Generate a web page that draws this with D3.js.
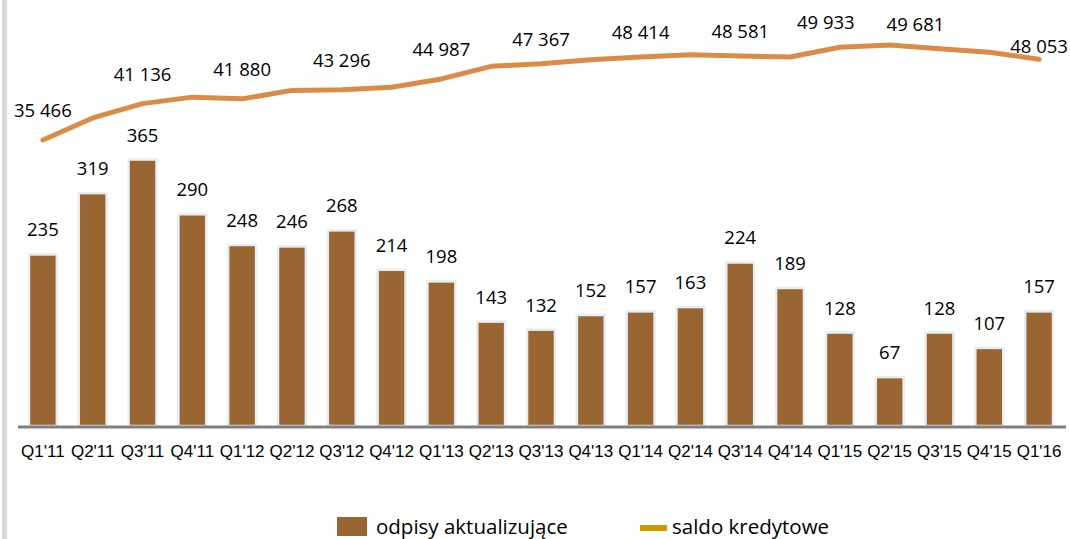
<!DOCTYPE html>
<html>
<head>
<meta charset="utf-8">
<script src="https://cdn.jsdelivr.net/npm/d3@7"></script>
<style>
  body { margin: 0; background: #fff; }
  svg { display: block; font-family: "Open Sans", sans-serif; }
  .tick text { font-size: 17px; fill: #000; }
</style>
</head>
<body>
<script>
var quarters = ["Q1'11","Q2'11","Q3'11","Q4'11","Q1'12","Q2'12","Q3'12","Q4'12",
  "Q1'13","Q2'13","Q3'13","Q4'13","Q1'14","Q2'14","Q3'14","Q4'14",
  "Q1'15","Q2'15","Q3'15","Q4'15","Q1'16"];

// odpisy aktualizujące
var writeDowns = [235, 319, 365, 290, 248, 246, 268, 214, 198, 143, 132, 152,
  157, 163, 224, 189, 128, 67, 128, 107, 157];

// saldo kredytowe (only every second quarter is labelled in the source)
var creditBalance = [35466, 38900, 41136, 42150, 41880, 43200, 43296, 43700,
  44987, 46950, 47367, 48000, 48414, 48780, 48581, 48400, 49933, 50300,
  49681, 49150, 48053];

var labelledQuarters = ["Q1'11","Q3'11","Q1'12","Q3'12","Q1'13","Q3'13",
  "Q1'14","Q3'14","Q1'15","Q3'15","Q1'16"];

var legendNames = ["odpisy aktualizujące", "saldo kredytowe"];

var width = 1070,
    height = 539,
    baseY = 426;

// hand placed line labels, like in the original slide
var labelShift = {
  "Q1'15": [-14, 0],
  "Q3'15": [-24, 0],
  "Q1'16": [0, 12]
};

var fmt = function(v) {
  return d3.format(",")(v).replace(/,/g, " ");
};

var svg = d3.select("body").append("svg")
    .attr("width", width)
    .attr("height", height);

// slide border on the left
svg.append("rect")
    .attr("x", 2).attr("y", 0)
    .attr("width", 5).attr("height", height)
    .attr("fill", "#d9d9d9");

var x = d3.scaleBand()
    .domain(quarters)
    .range([18, 1064])
    .paddingInner(0.44)
    .paddingOuter(0.22);

var yBar = d3.scaleLinear()
    .domain([0, 400])
    .range([baseY, 134]);

var yLine = d3.scaleLinear()
    .domain([30000, 52000])
    .range([175, 34]);

var cx = function(q) { return x(q) + x.bandwidth() / 2; };

var bars = svg.append("g").attr("class", "bars")
  .selectAll("g")
    .data(quarters)
  .enter().append("g");

bars.append("rect")
    .attr("x", function(d) { return x(d); })
    .attr("y", function(d, i) { return yBar(writeDowns[i]); })
    .attr("width", x.bandwidth())
    .attr("height", function(d, i) { return baseY - yBar(writeDowns[i]); })
    .attr("fill", "#996633")
    .attr("stroke", "#e6edf3")
    .attr("stroke-width", 2.5);

bars.append("text")
    .attr("x", cx)
    .attr("y", function(d, i) { return yBar(writeDowns[i]) - 18; })
    .attr("text-anchor", "middle")
    .style("font-size", "18.5px")
    .text(function(d, i) { return writeDowns[i]; });

var axis = svg.append("g")
    .attr("transform", "translate(0," + (baseY + 1) + ")")
    .call(d3.axisBottom(x).tickSize(0).tickSizeOuter(0).tickPadding(18));

axis.select(".domain")
    .attr("stroke", "#808080")
    .attr("stroke-width", 3)
    .attr("d", "M18,0H1066");

var line = d3.line()
    .x(function(d, i) { return cx(quarters[i]); })
    .y(function(d) { return yLine(d); });

svg.append("path")
    .datum(creditBalance)
    .attr("d", line)
    .attr("fill", "none")
    .attr("stroke", "#da8c46")
    .attr("stroke-width", 5)
    .attr("stroke-linejoin", "round")
    .attr("stroke-linecap", "round");

svg.append("g").attr("class", "line-labels")
  .selectAll("text")
    .data(labelledQuarters)
  .enter().append("text")
    .attr("x", function(q) { return cx(q) + (labelShift[q] ? labelShift[q][0] : 0); })
    .attr("y", function(q) {
      var i = quarters.indexOf(q);
      var lift = i < 10 ? 23 : 18;
      return yLine(creditBalance[i]) - lift + (labelShift[q] ? labelShift[q][1] : 0);
    })
    .attr("text-anchor", "middle")
    .style("font-size", "18.5px")
    .text(function(q) { return fmt(creditBalance[quarters.indexOf(q)]); });

// legend
var legend = svg.append("g").attr("class", "legend");

legend.append("rect")
    .attr("x", 337).attr("y", 517)
    .attr("width", 30).attr("height", 19)
    .attr("fill", "#996633");

legend.append("text")
    .attr("x", 376).attr("y", 534)
    .style("font-size", "20.5px")
    .text(legendNames[0]);

legend.append("line")
    .attr("x1", 640).attr("x2", 667)
    .attr("y1", 528).attr("y2", 528)
    .attr("stroke", "#cc9900")
    .attr("stroke-width", 6);

legend.append("text")
    .attr("x", 672).attr("y", 534)
    .style("font-size", "20.5px")
    .text(legendNames[1]);
</script>
</body>
</html>
